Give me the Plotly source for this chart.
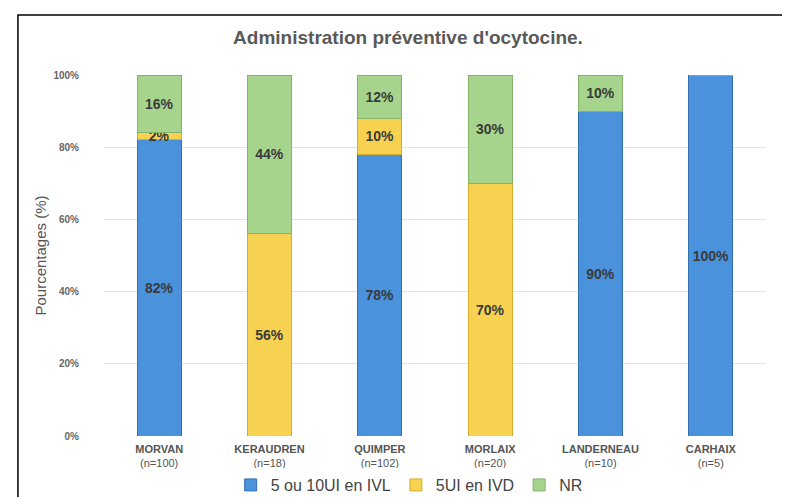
import plotly.graph_objects as go

categories = ["MORVAN", "KERAUDREN", "QUIMPER", "MORLAIX", "LANDERNEAU", "CARHAIX"]
n_values = [100, 18, 102, 20, 10, 5]
ivl = [82, 0, 78, 0, 90, 100]
ivd = [2, 56, 10, 70, 0, 0]
nr = [16, 44, 12, 30, 10, 0]
series_names = ["5 ou 10UI en IVL", "5UI en IVD", "NR"]
tick_vals = [0, 20, 40, 60, 80, 100]
tick_text = ["0%", "20%", "40%", "60%", "80%", "100%"]

colors = ["#4a92dc", "#f6d250", "#a7d48c"]
edge = ["#3270b0", "#d4ad2c", "#86b26c"]

ticklabels = [f"<b>{c}</b><br>(n={n})" for c, n in zip(categories, n_values)]

fig = go.Figure()
for name, vals, col, ec in zip(series_names, [ivl, ivd, nr], colors, edge):
    fig.add_trace(go.Bar(
        x=categories, y=vals, name=name,
        marker=dict(color=col, line=dict(color=ec, width=1)),
        text=[f"<b>{v}%</b>" if v > 0 else "" for v in vals],
        textposition="inside", insidetextanchor="middle",
        textfont=dict(size=14, color="#3a3a3a", family="Liberation Sans"),
        textangle=0,
    ))

fig.update_layout(
    barmode="stack", bargap=0.6,
    width=782, height=489,
    margin=dict(l=96, r=24, t=67, b=61, autoexpand=False),
    paper_bgcolor="white", plot_bgcolor="white",
    font=dict(family="Liberation Sans", color="#555555"),
    title=dict(text="<b>Administration préventive d'ocytocine.</b>", x=0.5115, xanchor="center",
               y=0.941, yanchor="middle", font=dict(size=19, color="#595959")),
    showlegend=True,
    legend=dict(orientation="h", x=0.461, xanchor="center", yref="container", y=0.0245, yanchor="middle",
                font=dict(size=16, color="#444444"), traceorder="normal", itemwidth=30),
    uniformtext=dict(minsize=10, mode="show"),
)
fig.update_yaxes(range=[0, 100], tickvals=tick_vals, ticktext=[f"<b>{t}</b>" for t in tick_text],
                 tickfont=dict(size=10, color="#666666", family="Liberation Sans"),
                 showgrid=True, gridcolor="#e3e3e3", zeroline=False, automargin=False,
                 title=dict(text="Pourcentages (%)", font=dict(size=15, color="#555555"), standoff=3),
                 ticks="", ticklabelstandoff=24)
fig.update_xaxes(tickvals=categories, ticktext=ticklabels,
                 tickfont=dict(size=11, color="#555555", family="Liberation Sans"),
                 showline=False, ticks="", automargin=False, ticklabelstandoff=5)
fig.add_shape(type="rect", xref="paper", yref="paper", x0=-0.13, x1=1.1, y0=-0.4, y1=1.166,
              line=dict(color="black", width=1.5), fillcolor="rgba(0,0,0,0)", layer="above")

fig.write_html("out.html")
